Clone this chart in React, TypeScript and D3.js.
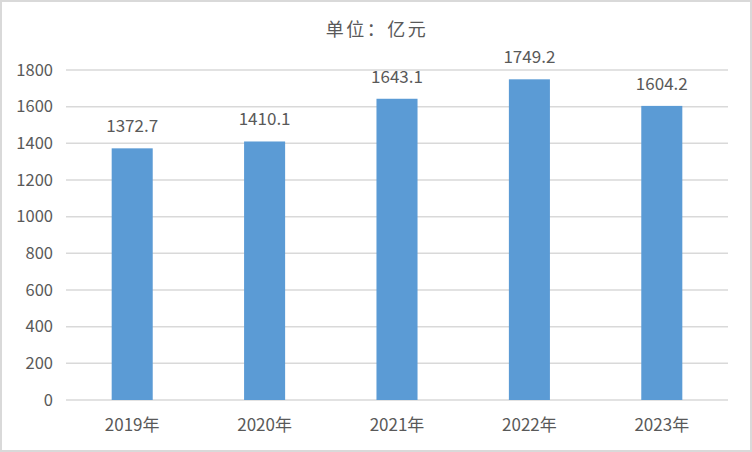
import React from "react";
import * as d3 from "d3";

const categories = ["2019年", "2020年", "2021年", "2022年", "2023年"];
const values = [1372.7, 1410.1, 1643.1, 1749.2, 1604.2];
const yTicks = [0, 200, 400, 600, 800, 1000, 1200, 1400, 1600, 1800];
const title = "单位：亿元";

const W = 752;
const H = 452;
const margin = { left: 66, right: 24, top: 70, bottom: 52 };

export default function App() {
  const x = d3
    .scaleBand<string>()
    .domain(categories)
    .range([margin.left, W - margin.right])
    .paddingInner(0.69)
    .paddingOuter(0.345);
  const y = d3.scaleLinear().domain([0, 1800]).range([H - margin.bottom, margin.top]);
  const font = "'Noto Sans CJK SC', 'Microsoft YaHei', sans-serif";
  const textColor = "#595959";
  return (
    <svg
      width={W}
      height={H}
      style={{ position: "absolute", left: 0, top: 0, display: "block" }}
      fontFamily={font}
    >
      <rect x={0} y={0} width={W} height={H} fill="#ffffff" />
      <rect x={1} y={1} width={W - 2} height={H - 2} fill="none" stroke="#d9d9d9" strokeWidth={2} />
      <text
        x={W / 2 + 1}
        y={30}
        dy="0.35em"
        textAnchor="middle"
        fontSize={18}
        letterSpacing={2.5}
        fill={textColor}
      >
        {title}
      </text>
      {yTicks.map((t) => (
        <g key={t}>
          <line
            x1={margin.left}
            x2={W - margin.right}
            y1={y(t)}
            y2={y(t)}
            stroke="#d9d9d9"
            strokeWidth={1.5}
          />
          <text
            x={53}
            y={y(t)}
            dy="0.35em"
            textAnchor="end"
            fontSize={16.5}
            fill={textColor}
          >
            {t}
          </text>
        </g>
      ))}
      {categories.map((c, i) => (
        <g key={c}>
          <rect
            x={x(c)}
            y={y(values[i])}
            width={x.bandwidth()}
            height={y(0) - y(values[i])}
            fill="#5b9bd5"
          />
          <text
            x={(x(c) as number) + x.bandwidth() / 2}
            y={y(values[i]) - 22}
            dy="0.35em"
            textAnchor="middle"
            fontSize={17}
            fill={textColor}
          >
            {values[i].toFixed(1)}
          </text>
          <text
            x={(x(c) as number) + x.bandwidth() / 2}
            y={425.5}
            dy="0.35em"
            textAnchor="middle"
            fontSize={17}
            fill={textColor}
          >
            {c}
          </text>
        </g>
      ))}
    </svg>
  );
}
